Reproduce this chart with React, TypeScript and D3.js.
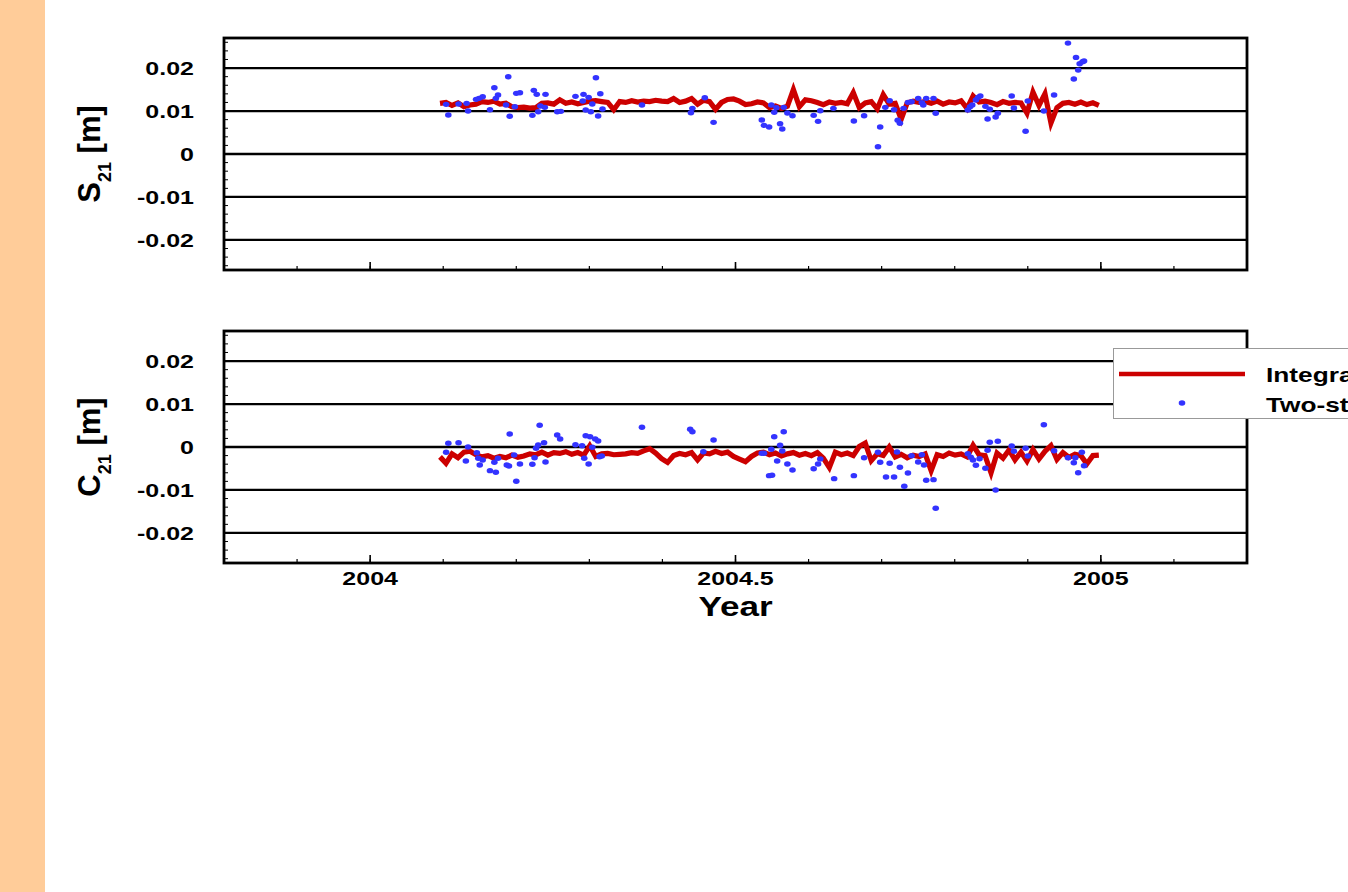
import React from "react";
import * as d3 from "d3";

const WIDTH = 1348;
const HEIGHT = 892;

// axis ticks
const xMajorTicks = [2004, 2004.5, 2005];
const xMajorLabels = ["2004", "2004.5", "2005"];
const yMajorTicks = [-0.02, -0.01, 0, 0.01, 0.02];
const yMajorLabels = ["-0.02", "-0.01", "0", "0.01", "0.02"];

// integrated approach: day of year 2004 (sampling of the red curve)
const integratedDays = [
  35, 38, 41, 44, 47, 50, 53, 56, 59, 62, 65, 68, 71, 74, 77, 80, 83, 86, 89, 92,
  95, 98, 101, 104, 107, 110, 113, 116, 119, 122, 125, 128, 131, 134, 137, 140, 143, 146, 149, 152,
  155, 158, 161, 164, 167, 170, 173, 176, 179, 182, 185, 188, 191, 194, 197, 200, 203, 206, 209, 212,
  215, 218, 221, 224, 227, 230, 233, 236, 239, 242, 245, 248, 251, 254, 257, 260, 263, 266, 269, 272,
  275, 278, 281, 284, 287, 290, 293, 296, 299, 302, 305, 308, 311, 314, 317, 320, 323, 326, 329, 332,
  335, 338, 341, 344, 347, 350, 353, 356, 359, 362, 365,
];

// integrated approach S21 [m]
const integratedS21 = [
  0.0118, 0.0120, 0.0113, 0.0119, 0.0110, 0.0114, 0.0116, 0.0122, 0.0120, 0.0123,
  0.0116, 0.0118, 0.0110, 0.0108, 0.0109, 0.0107, 0.0108, 0.0118, 0.0119, 0.0116,
  0.0126, 0.0118, 0.0121, 0.0117, 0.0120, 0.0123, 0.0124, 0.0122, 0.0120, 0.0103,
  0.0122, 0.0120, 0.0124, 0.0121, 0.0123, 0.0122, 0.0125, 0.0123, 0.0122, 0.0129,
  0.0120, 0.0123, 0.0129, 0.0116, 0.0125, 0.0122, 0.0104, 0.0120, 0.0127, 0.0128,
  0.0123, 0.0115, 0.0117, 0.0121, 0.0119, 0.0108, 0.0112, 0.0106, 0.0111, 0.0150,
  0.0110, 0.0126, 0.0124, 0.0120, 0.0115, 0.0121, 0.0118, 0.0120, 0.0117, 0.0143,
  0.0108, 0.0119, 0.0122, 0.0105, 0.0138, 0.0116, 0.0118, 0.0081, 0.0119, 0.0123,
  0.0120, 0.0122, 0.0118, 0.0123, 0.0116, 0.0121, 0.0119, 0.0124, 0.0106, 0.0135,
  0.0121, 0.0123, 0.0120, 0.0115, 0.0122, 0.0118, 0.0120, 0.0119, 0.0095, 0.0144,
  0.0113, 0.0140, 0.0072, 0.0108, 0.0118, 0.0120, 0.0116, 0.0121, 0.0115, 0.0119,
  0.0113,
];

// integrated approach C21 [m]
const integratedC21 = [
  -0.0023, -0.0038, -0.0016, -0.0025, -0.0012, -0.0010, -0.0018, -0.0023, -0.0020, -0.0026,
  -0.0022, -0.0025, -0.0019, -0.0024, -0.0021, -0.0016, -0.0018, -0.0012, -0.0019, -0.0013,
  -0.0015, -0.0011, -0.0017, -0.0013, -0.0019, 0.0003, -0.0022, -0.0016, -0.0015, -0.0018,
  -0.0017, -0.0016, -0.0013, -0.0015, -0.0009, -0.0004, -0.0014, -0.0027, -0.0036, -0.0020,
  -0.0015, -0.0018, -0.0013, -0.0030, -0.0014, -0.0016, -0.0010, -0.0015, -0.0012, -0.0022,
  -0.0028, -0.0034, -0.0022, -0.0014, -0.0012, -0.0018, -0.0014, -0.0021, -0.0016, -0.0013,
  -0.0019, -0.0015, -0.0020, -0.0013, -0.0026, -0.0048, -0.0012, -0.0018, -0.0014, -0.0020,
  0.0001, 0.0009, -0.0032, -0.0016, -0.0020, 0.0000, -0.0023, -0.0017, -0.0025, -0.0019,
  -0.0022, -0.0016, -0.0055, -0.0018, -0.0022, -0.0014, -0.0019, -0.0016, -0.0023, 0.0004,
  -0.0018, -0.0020, -0.0060, -0.0014, -0.0026, -0.0007, -0.0030, -0.0012, -0.0033, -0.0006,
  -0.0028, -0.0010, 0.0003, -0.0029, -0.0013, -0.0024, -0.0017, -0.0020, -0.0039, -0.0020,
  -0.0019,
];

// two-step approach S21: [decimal year, value m]
const twoStepS21: [number, number][] = [
  [2004.104, 0.01156], [2004.107, 0.00907], [2004.121, 0.01163], [2004.132, 0.01179], [2004.134, 0.0100],
  [2004.145, 0.01272], [2004.149, 0.01295], [2004.154, 0.01333], [2004.164, 0.0103], [2004.170, 0.01542],
  [2004.172, 0.01295], [2004.175, 0.01372], [2004.186, 0.0114], [2004.189, 0.01798], [2004.191, 0.00877],
  [2004.198, 0.0110], [2004.200, 0.01412], [2004.205, 0.01426], [2004.222, 0.0090], [2004.224, 0.01481],
  [2004.228, 0.01388], [2004.230, 0.00984], [2004.233, 0.01116], [2004.239, 0.01086], [2004.240, 0.01388],
  [2004.256, 0.00984], [2004.261, 0.00993], [2004.281, 0.01342], [2004.291, 0.01233], [2004.292, 0.01388],
  [2004.295, 0.01023], [2004.299, 0.01319], [2004.302, 0.00984], [2004.304, 0.01163], [2004.309, 0.01774],
  [2004.312, 0.00884], [2004.315, 0.01402], [2004.318, 0.01047], [2004.372, 0.0114], [2004.439, 0.0096],
  [2004.441, 0.01063], [2004.458, 0.01309], [2004.470, 0.00737], [2004.536, 0.00791], [2004.539, 0.00667],
  [2004.546, 0.00628], [2004.549, 0.0114], [2004.553, 0.0097], [2004.556, 0.01077], [2004.561, 0.00705],
  [2004.564, 0.00581], [2004.566, 0.01086], [2004.571, 0.00953], [2004.578, 0.00891], [2004.607, 0.0090],
  [2004.613, 0.0076], [2004.616, 0.01007], [2004.634, 0.01063], [2004.662, 0.00767], [2004.676, 0.00891],
  [2004.695, 0.0017], [2004.698, 0.00628], [2004.705, 0.01086], [2004.711, 0.0124], [2004.717, 0.0103],
  [2004.722, 0.00784], [2004.725, 0.00714], [2004.730, 0.01063], [2004.736, 0.01202], [2004.741, 0.01216],
  [2004.750, 0.01295], [2004.755, 0.01193], [2004.757, 0.0114], [2004.761, 0.01295], [2004.771, 0.01295],
  [2004.774, 0.00947], [2004.818, 0.01023], [2004.821, 0.0110], [2004.824, 0.0114], [2004.829, 0.01256],
  [2004.832, 0.01319], [2004.835, 0.01349], [2004.842, 0.01109], [2004.845, 0.00814], [2004.848, 0.0104],
  [2004.856, 0.0086], [2004.859, 0.00947], [2004.878, 0.01349], [2004.881, 0.0107], [2004.897, 0.00528],
  [2004.900, 0.01233], [2004.922, 0.0100], [2004.936, 0.01372], [2004.955, 0.02581], [2004.963, 0.01744],
  [2004.966, 0.02249], [2004.969, 0.01953], [2004.971, 0.0210], [2004.975, 0.02147], [2004.977, 0.02163],
];

// two-step approach C21: [decimal year, value m]
const twoStepC21: [number, number][] = [
  [2004.104, -0.00123], [2004.107, 0.00086], [2004.121, 0.0010], [2004.131, -0.00326], [2004.134, 0.0],
  [2004.146, -0.00133], [2004.148, -0.00263], [2004.150, -0.00419], [2004.154, -0.00302], [2004.164, -0.00551],
  [2004.170, -0.00356], [2004.172, -0.00588], [2004.175, -0.00263], [2004.187, -0.00419], [2004.190, -0.00442],
  [2004.191, 0.00302], [2004.197, -0.00186], [2004.200, -0.00798], [2004.205, -0.00395], [2004.222, -0.00402],
  [2004.225, -0.00249], [2004.227, -0.0003], [2004.230, 0.00047], [2004.232, 0.00505], [2004.238, 0.0010],
  [2004.240, -0.00349], [2004.256, 0.00279], [2004.260, 0.00186], [2004.281, 0.00053], [2004.290, 0.0003],
  [2004.293, -0.00263], [2004.295, 0.00263], [2004.299, -0.00395], [2004.301, 0.0024], [2004.304, -0.00007],
  [2004.308, 0.00186], [2004.312, 0.0014], [2004.314, -0.00226], [2004.317, -0.00209], [2004.372, 0.00458],
  [2004.438, 0.00412], [2004.441, 0.00356], [2004.456, -0.00109], [2004.470, 0.00163], [2004.536, -0.00147],
  [2004.539, -0.00147], [2004.546, -0.00667], [2004.549, -0.00053], [2004.550, -0.00658], [2004.553, 0.0024],
  [2004.557, -0.00326], [2004.561, 0.0004], [2004.564, -0.00093], [2004.566, 0.00356], [2004.571, -0.00395],
  [2004.578, -0.00535], [2004.607, -0.00505], [2004.613, -0.00395], [2004.616, -0.00279], [2004.635, -0.00737],
  [2004.662, -0.00667], [2004.676, -0.00249], [2004.695, -0.00123], [2004.698, -0.00356], [2004.706, -0.00698],
  [2004.711, -0.00379], [2004.717, -0.00698], [2004.721, -0.00116], [2004.725, -0.00472], [2004.731, -0.00914],
  [2004.736, -0.00605], [2004.741, -0.00202], [2004.750, -0.00349], [2004.755, -0.00179], [2004.758, -0.00419],
  [2004.761, -0.00774], [2004.771, -0.0076], [2004.774, -0.01426], [2004.818, -0.00156], [2004.822, -0.0024],
  [2004.825, -0.00302], [2004.829, -0.00426], [2004.834, -0.00272], [2004.842, -0.00495], [2004.845, -0.00077],
  [2004.848, 0.00109], [2004.856, -0.0100], [2004.859, 0.00133], [2004.878, 0.00023], [2004.881, -0.0010],
  [2004.897, -0.0003], [2004.900, -0.00209], [2004.922, 0.00519], [2004.936, -0.00086], [2004.955, -0.00249],
  [2004.963, -0.00365], [2004.965, -0.00249], [2004.969, -0.00598], [2004.974, -0.00123], [2004.977, -0.00435],
];

const legendLabels = ["Integrated approach", "Two-step approach"];

const RED = "#cc0000";
const BLUE = "#3333ff";
const FONT = "'Liberation Sans', Arial, Helvetica, sans-serif";

const PLOT_LEFT = 224;
const PLOT_RIGHT = 1247;
const PLOT_H = 232;

const x = d3.scaleLinear().domain([2003.8, 2005.2]).range([PLOT_LEFT, PLOT_RIGHT]);

type PanelProps = {
  top: number;
  letter: string;
  line: number[];
  dots: [number, number][];
  showXLabels: boolean;
};

function Panel({ top, letter, line, dots, showXLabels }: PanelProps) {
  const y = d3.scaleLinear().domain([-0.027, 0.027]).range([top + PLOT_H, top]);
  const n = Math.min(integratedDays.length, line.length);
  const pts: [number, number][] = [];
  for (let i = 0; i < n; i++) pts.push([2004 + integratedDays[i] / 366, line[i]]);
  const lineGen = d3
    .line<[number, number]>()
    .x((d) => x(d[0]))
    .y((d) => y(d[1]));
  const yMinor = d3.range(-13, 14).map((k) => k * 0.002);
  const xMinor = d3.range(-1, 12).map((k) => 2004 + k * 0.1);
  const bottom = top + PLOT_H;
  const labelCy = (top + bottom) / 2;
  return (
    <g>
      {yMajorTicks.map((t) => (
        <line key={"g" + t} x1={PLOT_LEFT} x2={PLOT_RIGHT} y1={y(t)} y2={y(t)} stroke="#000" strokeWidth={2.3} />
      ))}
      {yMinor.map((t, i) => (
        <line key={"ym" + i} x1={PLOT_LEFT} x2={PLOT_LEFT + 4} y1={y(t)} y2={y(t)} stroke="#000" strokeWidth={1} />
      ))}
      {xMinor.map((t, i) => (
        <line key={"xm" + i} x1={x(t)} x2={x(t)} y1={bottom} y2={bottom - 4} stroke="#000" strokeWidth={1.2} />
      ))}
      {xMajorTicks.map((t) => (
        <line key={"xM" + t} x1={x(t)} x2={x(t)} y1={bottom} y2={bottom - 8} stroke="#000" strokeWidth={1.6} />
      ))}
      <path d={lineGen(pts) || ""} fill="none" stroke={RED} strokeWidth={5.2} strokeLinejoin="miter" strokeMiterlimit={5} />
      {dots.map((d, i) => (
        <ellipse key={"d" + i} cx={x(d[0])} cy={y(d[1])} rx={3.3} ry={2.7} fill={BLUE} />
      ))}
      <rect x={PLOT_LEFT} y={top} width={PLOT_RIGHT - PLOT_LEFT} height={PLOT_H} fill="none" stroke="#000" strokeWidth={2.8} />
      {yMajorTicks.map((t, i) => (
        <text
          key={"yl" + t}
          transform={`translate(194,${y(t) + 7}) scale(1.33,1)`}
          textAnchor="end"
          fontFamily={FONT}
          fontWeight="bold"
          fontSize={18.8}
          fill="#000"
        >
          {yMajorLabels[i]}
        </text>
      ))}
      <text
        transform={`translate(100,${labelCy}) rotate(-90)`}
        textAnchor="middle"
        fontFamily={FONT}
        fontWeight="bold"
        fontSize={31}
        fill="#000"
      >
        {letter}
        <tspan fontSize={18} dy={11}>21</tspan>
        <tspan dy={-11}>{" [m]"}</tspan>
      </text>
      {showXLabels &&
        xMajorTicks.map((t, i) => (
          <text
            key={"xl" + t}
            transform={`translate(${x(t)},${bottom + 22}) scale(1.33,1)`}
            textAnchor="middle"
            fontFamily={FONT}
            fontWeight="bold"
            fontSize={18.8}
            fill="#000"
          >
            {xMajorLabels[i]}
          </text>
        ))}
    </g>
  );
}

export default function App() {
  return (
    <svg
      width={WIDTH}
      height={HEIGHT}
      style={{ position: "absolute", left: 0, top: 0, display: "block", background: "#fff" }}
    >
      <rect x={0} y={0} width={WIDTH} height={HEIGHT} fill="#fff" />
      <rect x={0} y={0} width={45} height={HEIGHT} fill="#ffcc99" />
      <Panel top={38} letter="S" line={integratedS21} dots={twoStepS21} showXLabels={false} />
      <Panel top={331} letter="C" line={integratedC21} dots={twoStepC21} showXLabels={true} />
      <text
        transform={`translate(${x(2004.5)},616) scale(1.3,1)`}
        textAnchor="middle"
        fontFamily={FONT}
        fontWeight="bold"
        fontSize={27}
        fill="#000"
      >
        Year
      </text>
      <g>
        <rect x={1113.5} y={348.5} width={260} height={70} fill="#fff" stroke="#999" strokeWidth={1} />
        <line x1={1119} x2={1245} y1={374} y2={374} stroke={RED} strokeWidth={4.5} />
        <ellipse cx={1182} cy={403} rx={3.3} ry={2.7} fill={BLUE} />
        {legendLabels.map((lab, i) => (
          <text
            key={lab}
            transform={`translate(1266,${382 + i * 29.5}) scale(1.25,1)`}
            fontFamily={FONT}
            fontWeight="bold"
            fontSize={21}
            fill="#000"
          >
            {lab}
          </text>
        ))}
      </g>
    </svg>
  );
}
